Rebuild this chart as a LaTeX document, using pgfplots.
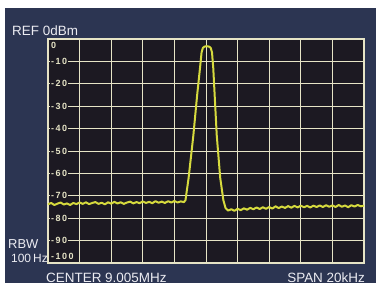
\documentclass[border=0pt]{standalone}
\usepackage{pgfplots}
\pgfplotsset{compat=1.18}
\usepackage{fontspec}
\setmainfont{Liberation Sans}
\definecolor{navy}{HTML}{2C3552}
\definecolor{plotbg}{HTML}{1C1922}
\definecolor{gridc}{HTML}{E6E4C6}
\definecolor{trace}{HTML}{D6DA3E}
\definecolor{txt}{HTML}{ECECF2}
\pgfplotstableread{
x y
0 -73.8
0.1 -73.2
0.2 -74.1
0.3 -73.5
0.4 -73.0
0.5 -73.9
0.6 -73.4
0.7 -74.1
0.8 -73.2
0.9 -73.7
1.0 -73.0
1.1 -73.6
1.2 -72.9
1.3 -73.7
1.4 -73.2
1.5 -72.8
1.6 -73.6
1.7 -73.1
1.8 -73.8
1.9 -72.9
2.0 -73.5
2.1 -72.7
2.2 -73.4
2.3 -72.9
2.4 -73.6
2.5 -73.0
2.6 -72.6
2.7 -73.4
2.8 -72.8
2.9 -73.3
3.0 -72.5
3.1 -73.2
3.2 -72.7
3.3 -73.3
3.4 -72.4
3.5 -73.1
3.6 -72.6
3.7 -73.2
3.8 -72.4
3.9 -73.0
4.0 -72.3
4.1 -73.0
4.2 -72.5
4.3 -72.8
4.35 -72.0
4.45 -62
4.6 -43
4.72 -25
4.81 -13
4.86 -6
4.9 -4
4.95 -3.4
5.02 -3.2
5.1 -3.4
5.15 -4
5.19 -6
5.23 -13
5.34 -43
5.45 -62
5.55 -72
5.62 -75.5
5.7 -76.6
5.8 -76.0
5.9 -76.7
6.0 -75.8
6.1 -76.4
6.2 -75.6
6.3 -76.2
6.4 -75.4
6.5 -76.0
6.6 -75.2
6.7 -75.9
6.8 -75.1
6.9 -75.8
7.0 -75.0
7.1 -75.7
7.2 -74.7
7.3 -75.5
7.4 -74.8
7.5 -75.4
7.6 -74.6
7.7 -75.3
7.8 -74.5
7.9 -75.2
8.0 -74.4
8.1 -75.1
8.2 -74.5
8.3 -75.2
8.4 -74.4
8.5 -75.0
8.6 -74.3
8.7 -75.0
8.8 -74.2
8.9 -74.9
9.0 -74.3
9.1 -75.0
9.2 -74.1
9.3 -74.9
9.4 -74.3
9.5 -75.1
9.6 -74.2
9.7 -74.8
9.8 -74.1
9.9 -74.7
10 -74.4
}\trace
\tikzset{ylab/.style={anchor=west, fill=plotbg, inner sep=1pt, text=gridc, font=\bfseries\fontsize{9}{10}\selectfont}}
\begin{document}
\begin{tikzpicture}[x=1bp,y=1bp]
\fill[white] (0,0) rectangle (380,289);
\fill[navy] (5,6) rectangle (376,281);
\begin{axis}[
  at={(48bp,26bp)}, anchor=south west,
  scale only axis, width=316bp, height=224bp,
  xmin=0, xmax=10, ymin=-100, ymax=0,
  xtick={0,1,...,10}, ytick={-100,-90,...,0},
  xticklabels={}, yticklabels={},
  major tick length=0pt,
  grid=major,
  major grid style={gridc, line width=0.9pt},
  axis line style={gridc, line width=1.2pt},
  axis background/.style={fill=plotbg},
  clip=false,
]
\node[ylab, anchor=north west] at (axis cs:0.06,-0.8) {0};
\node[ylab] at (axis cs:0.06,-10) {-\,1\,0};
\node[ylab] at (axis cs:0.06,-20) {-\,2\,0};
\node[ylab] at (axis cs:0.06,-30) {-\,3\,0};
\node[ylab] at (axis cs:0.06,-40) {-\,4\,0};
\node[ylab] at (axis cs:0.06,-50) {-\,5\,0};
\node[ylab] at (axis cs:0.06,-60) {-\,6\,0};
\node[ylab] at (axis cs:0.06,-70) {-\,7\,0};
\node[ylab] at (axis cs:0.06,-80) {-\,8\,0};
\node[ylab] at (axis cs:0.06,-90) {-\,9\,0};
\node[ylab, anchor=south west] at (axis cs:0.06,-99.2) {-\,1\,0\,0};
\addplot[trace, line width=2pt, line join=round] table[x=x,y=y] {\trace};
\end{axis}
\node[anchor=base west, text=txt, font=\fontsize{13.5}{14}\selectfont, inner sep=0pt] at (12,254) {REF 0dBm};
\node[anchor=base west, text=txt, font=\fontsize{13.5}{14}\selectfont, inner sep=0pt] at (46,7) {CENTER 9.005MHz};
\node[anchor=base east, text=txt, font=\fontsize{13.5}{14}\selectfont, inner sep=0pt] at (365,7) {SPAN 20kHz};
\node[anchor=base west, text=txt, font=\fontsize{13}{14}\selectfont, inner sep=0pt] at (8,41) {RBW};
\node[anchor=base west, text=txt, font=\fontsize{12}{13}\selectfont, inner sep=0pt] at (11,27) {100\,Hz};
\end{tikzpicture}
\end{document}
